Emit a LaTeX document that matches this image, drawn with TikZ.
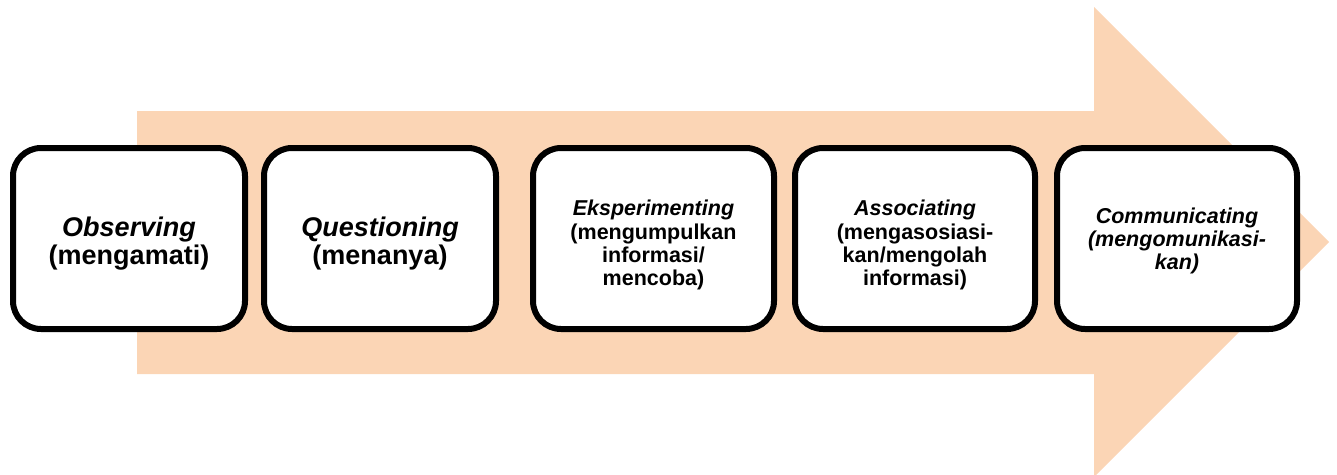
\documentclass[tikz,border=0pt]{standalone}
\usepackage{fontspec}
\setmainfont{Liberation Sans}
\definecolor{peach}{HTML}{FBD5B5}
\newcommand{\bigstep}[1]{\raisebox{-6.5pt}[\height][\depth]{\fontsize{27}{27}\selectfont\bfseries\begin{tabular}{@{}c@{}}#1\end{tabular}}}
\newcommand{\smallstep}[2][-5pt]{\raisebox{#1}[\height][\depth]{\fontsize{21.5}{23.3}\selectfont\bfseries\begin{tabular}{@{}c@{}}#2\end{tabular}}}
\begin{document}
\begin{tikzpicture}[x=1pt,y=-1pt,
  stepbox/.style={draw=black,line width=6pt,fill=white,rounded corners=28pt,
    minimum height=181pt,align=center,inner sep=0pt}]
\useasboundingbox (0,0) rectangle (1337,474);
\clip (0,0) rectangle (1337,474);
\fill[peach] (137,111) -- (1094,111) -- (1094,7) -- (1329,242) -- (1094,477) -- (1094,374) -- (137,374) -- cycle;
\node[stepbox,minimum width=232pt] (b1) at (129,238.5) {\bigstep{\textit{Observing}\\(mengamati)}};
\node[stepbox,minimum width=232pt] (b2) at (380,238.5) {\bigstep{\textit{Questioning}\\(menanya)}};
\node[stepbox,minimum width=241pt] (b3) at (653.5,238.5) {\smallstep[-7.5pt]{\textit{Eksperimenting}\\(mengumpulkan\\informasi/\\mencoba)}};
\node[stepbox,minimum width=240pt] (b4) at (915,238.5) {\smallstep[-7.5pt]{\textit{Associating}\\(mengasosiasi-\\kan/mengolah\\informasi)}};
\node[stepbox,minimum width=240pt] (b5) at (1177,238.5) {\smallstep[-3.5pt]{\textit{Communicating}\\\textit{(mengomunikasi-}\\\textit{kan)}}};
\end{tikzpicture}
\end{document}
